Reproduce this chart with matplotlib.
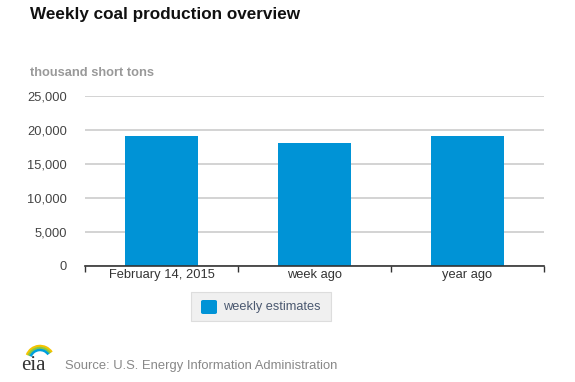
import matplotlib.pyplot as plt
from matplotlib.patches import FancyBboxPatch, Rectangle, Arc

categories = ["February 14, 2015", "week ago", "year ago"]
weekly_estimates = [19100, 18050, 19100]
y_ticks = [0, 5000, 10000, 15000, 20000, 25000]

BAR_COLOR = "#0093d6"
GRID_COLOR = "#cccccc"

plt.rcParams['font.family'] = ['Liberation Sans', 'DejaVu Sans']

fig = plt.figure(figsize=(5.75, 3.82), dpi=100)
W, H = 575, 382

# plot area in pixel coords: x 85..544, y 96..266
ax = fig.add_axes([85 / W, 1 - 266 / H, (544 - 85) / W, (266 - 96) / H])

x = list(range(len(categories)))
ax.bar(x, weekly_estimates, width=0.48, color=BAR_COLOR, zorder=3)

ax.set_xlim(-0.5, len(categories) - 0.5)
ax.set_ylim(0, 25000)
ax.set_yticks(y_ticks)
ax.set_yticklabels([f"{v:,}" for v in y_ticks], color="#444444", fontsize=9.3)
ax.yaxis.grid(True, color=GRID_COLOR, linewidth=1.2, zorder=0)
ax.tick_params(axis='y', length=0, pad=13)

# category boundary ticks
ax.set_xticks([i - 0.5 for i in range(len(categories) + 1)])
ax.set_xticklabels([])
ax.set_xticks(x, minor=True)
ax.set_xticklabels(categories, minor=True, fontsize=9.3, color="#333333")
ax.tick_params(axis='x', which='major', length=4, width=1, color="#333333", direction='out')
ax.tick_params(axis='x', which='minor', length=0, pad=2)

for s in ['top', 'right', 'left']:
    ax.spines[s].set_visible(False)
ax.spines['bottom'].set_color("#333333")
ax.spines['bottom'].set_linewidth(1.2)
ax.spines['bottom'].set_zorder(4)

# title and unit label
fig.text(30 / W, 1 - 14 / H, "Weekly coal production overview", fontsize=12.3,
         fontweight='bold', color="#111111", va='center', ha='left')
fig.text(30 / W, 1 - 73 / H, "thousand short tons", fontsize=9.3, fontweight='bold',
         color="#999999", va='center', ha='left')

# legend box
fig.patches.append(Rectangle((191 / W, 1 - 321 / H), 140 / W, 29 / H, transform=fig.transFigure,
                             facecolor="#f0f0f0", edgecolor="#dddddd", linewidth=0.8))
fig.patches.append(FancyBboxPatch((201 / W, 1 - 314 / H), 16 / W, 14 / H,
                                  boxstyle="round,pad=0,rounding_size=0.004",
                                  transform=fig.transFigure, facecolor=BAR_COLOR,
                                  edgecolor='none'))
fig.text(223 / W, 1 - 307 / H, "weekly estimates", fontsize=9.2, color="#4a5870",
         va='center', ha='left')

# eia logo and source
fig.text(21 / W, 1 - 365 / H, "eia", fontsize=15, family=['Liberation Serif', 'DejaVu Serif'],
         color="#333333", va='center', ha='left')
for r, col in [(14, "#f5c400"), (12, "#8dc63f"), (10, "#00a0dc")]:
    fig.patches.append(Arc((40 / W, 1 - 360 / H), 2 * r / W, 2 * r / H, theta1=45, theta2=150,
                           transform=fig.transFigure, color=col, linewidth=1.8))
fig.text(65 / W, 1 - 366 / H, "Source: U.S. Energy Information Administration", fontsize=9.4,
         color="#888888", va='center', ha='left')

fig.savefig("out.png", dpi=100)
